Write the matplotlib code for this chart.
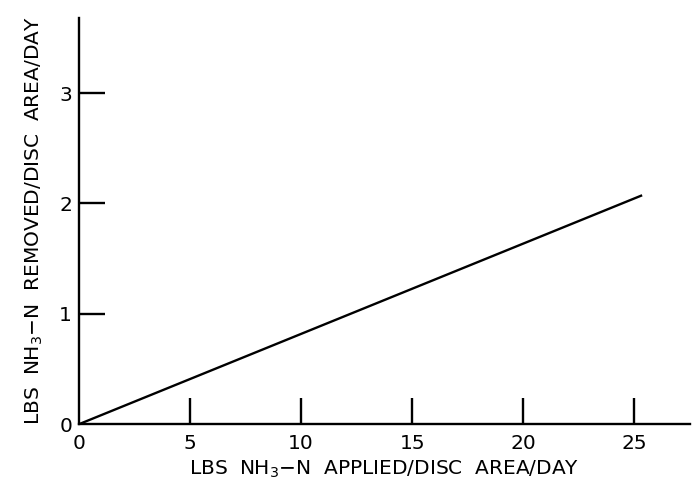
import matplotlib
matplotlib.use("Agg")
import matplotlib.pyplot as plt

# line endpoints
applied = [0, 25.3]
removed = [0, 2.07]
x_ticks = [0, 5, 10, 15, 20, 25]
y_ticks = [0, 1, 2, 3]

plt.rcParams['font.family'] = ['DejaVu Sans']
plt.rcParams['mathtext.fontset'] = 'dejavusans'

fig = plt.figure(figsize=(6.99, 4.87), dpi=100)
ax = fig.add_axes([0.113, 0.129, 0.874, 0.834])

ax.plot(applied, removed, color='black', lw=1.7)

ax.set_xlim(0, 27.5)
ax.set_ylim(0, 3.68)
ax.set_xticks(x_ticks)
ax.set_yticks(y_ticks)
ax.spines['top'].set_visible(False)
ax.spines['right'].set_visible(False)
for s in ('left', 'bottom'):
    ax.spines[s].set_linewidth(1.7)

ax.tick_params(axis='both', direction='in', length=18.5, width=1.7,
               labelsize=14.5)
ax.tick_params(axis='x', pad=7)
ax.tick_params(axis='y', pad=5)
# zero ticks sit on the spines, hide their marks
ax.xaxis.get_major_ticks()[0].tick1line.set_visible(False)
ax.yaxis.get_major_ticks()[0].tick1line.set_visible(False)

ax.set_xlabel('LBS  NH$_{3}$\u2212N  APPLIED/DISC  AREA/DAY', fontsize=14.5,
              labelpad=4)
ax.set_ylabel('LBS  NH$_{3}$\u2212N  REMOVED/DISC  AREA/DAY', fontsize=14.5,
              labelpad=10)

fig.savefig('out.png', dpi=100)
